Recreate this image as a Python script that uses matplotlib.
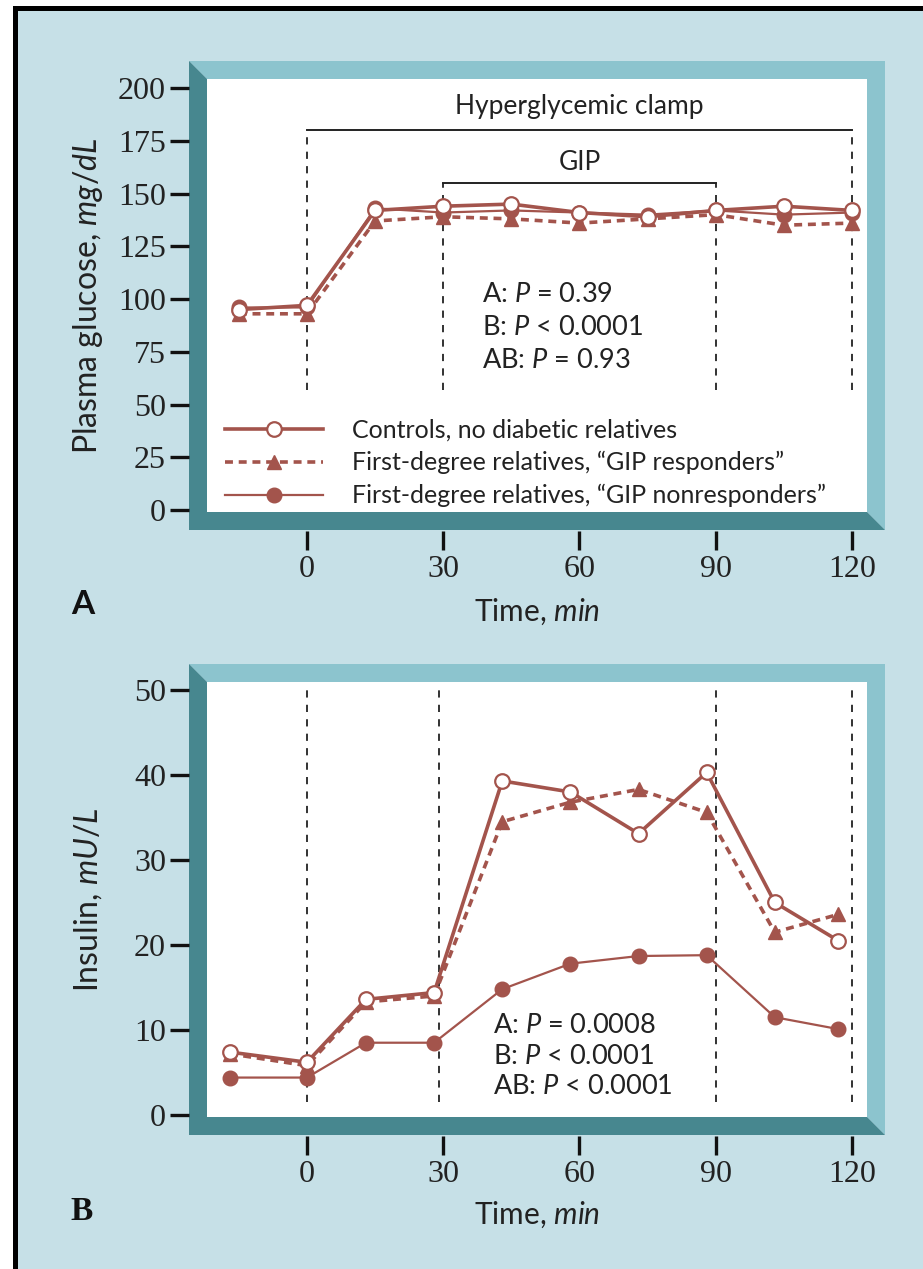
import matplotlib
matplotlib.use('Agg')
import matplotlib.pyplot as plt
from matplotlib.patches import Polygon, Rectangle

W, H = 923, 1269
BG = '#c6e0e7'
LIGHT = '#8cc4ce'
DARK = '#47878f'
RED = '#a3544c'

# ---- data ----
time_a = [-15, 0, 15, 30, 45, 60, 75, 90, 105, 120]
glu_ctrl = [95, 97, 142, 144, 145, 141, 139, 142, 144, 142]
glu_resp = [93, 93, 137, 139, 138, 136, 138, 140, 135, 136]
glu_nonr = [96, 96, 143, 141, 142, 141, 140, 142, 140, 141]

time_b = [-17, 0, 13, 28, 43, 58, 73, 88, 103, 117]
ins_ctrl = [7.4, 6.2, 13.6, 14.4, 39.3, 38.0, 33.1, 40.3, 25.0, 20.5]
ins_resp = [7.2, 5.8, 13.3, 14.0, 34.5, 36.8, 38.3, 35.6, 21.5, 23.6]
ins_nonr = [4.4, 4.4, 8.5, 8.5, 14.8, 17.8, 18.7, 18.8, 11.5, 10.1]

x_ticks = [0, 30, 60, 90, 120]
y_ticks_a = [0, 25, 50, 75, 100, 125, 150, 175, 200]
y_ticks_b = [0, 10, 20, 30, 40, 50]
series_labels = ['Controls, no diabetic relatives',
                 'First-degree relatives, \u201cGIP responders\u201d',
                 'First-degree relatives, \u201cGIP nonresponders\u201d']
stats_a = ['A: $P$ = 0.39', 'B: $P$ < 0.0001', 'AB: $P$ = 0.93']
stats_b = ['A: $P$ = 0.0008', 'B: $P$ < 0.0001', 'AB: $P$ < 0.0001']

plt.rcParams['font.family'] = ['Lato', 'DejaVu Sans']
plt.rcParams['mathtext.fontset'] = 'custom'
plt.rcParams['mathtext.rm'] = 'Lato'
plt.rcParams['mathtext.it'] = 'Lato:italic'
plt.rcParams['mathtext.bf'] = 'Lato:bold'
TXT = '#222222'

fig = plt.figure(figsize=(W / 100, H / 100), dpi=100, facecolor='white')


def fx(x):
    return x / W


def fy(y):
    return 1 - y / H


# background with black border on left/top
fig.patches.append(Rectangle((fx(15.5), fy(1300)), fx(1000), fy(7.5) - fy(1300),
                             transform=fig.transFigure, facecolor=BG,
                             edgecolor='black', lw=3.6, zorder=-10))


def frame(l, t, r, b, d=18):
    light = [(l - d, t - d), (r + d, t - d), (r + d, b + d), (r, b), (r, t), (l, t)]
    dark = [(l - d, t - d), (l, t), (l, b), (r, b), (r + d, b + d), (l - d, b + d)]
    for pts, c in ((light, LIGHT), (dark, DARK)):
        fig.patches.append(Polygon([(fx(x), fy(y)) for x, y in pts], closed=True,
                                   transform=fig.transFigure, facecolor=c,
                                   edgecolor='none', zorder=-5))


def make_axes(l, t, r, b, xlim, ylim, yticks):
    ax = fig.add_axes([fx(l), fy(b), (r - l) / W, (b - t) / H])
    ax.set_facecolor('white')
    ax.set_xlim(*xlim)
    ax.set_ylim(*ylim)
    for s in ax.spines.values():
        s.set_visible(False)
    ax.spines['left'].set_position(('outward', 18 * 0.72))
    ax.spines['bottom'].set_position(('outward', 19 * 0.72))
    ax.set_xticks(x_ticks)
    ax.set_yticks(yticks)
    ax.tick_params(axis='both', direction='out', length=13.5, width=2.4,
                   color='#111111', labelcolor=TXT, labelsize=23)
    ax.tick_params(axis='y', pad=3)
    ax.tick_params(axis='x', pad=3.5)
    for lab in ax.get_xticklabels() + ax.get_yticklabels():
        lab.set_family('Liberation Serif')
    frame(l, t, r, b)
    return ax


def plot_series(ax, t, ctrl, resp, nonr):
    ax.plot(t, nonr, color=RED, lw=1.6, marker='o', ms=10.5, mfc=RED, mec=RED,
            zorder=3, label=series_labels[2])
    ax.plot(t, resp, color=RED, lw=2.6, ls=(0, (2.2, 1.6)), marker='^', ms=10.5,
            mfc=RED, mec=RED, zorder=4, label=series_labels[1])
    ax.plot(t, ctrl, color=RED, lw=2.6, marker='o', ms=10.5, mfc='white', mec=RED,
            mew=1.6, zorder=5, label=series_labels[0])


def labels(ax, xl, yl, xl_y, size_y):
    ax.set_xlabel(xl, fontsize=21.5, color=TXT)
    ax.xaxis.set_label_coords(0.5, xl_y)
    ax.xaxis.label.set_va('center')
    ax.set_ylabel(yl, fontsize=size_y, color=TXT)
    ax.yaxis.set_label_coords((88 - 207) / 660, 0.5)
    ax.yaxis.label.set_va('center')


DASH = dict(color='#222222', lw=1.3, ls=(0, (4, 4)), zorder=1)

# ---------------- Panel A ----------------
axA = make_axes(207, 79, 867, 512, (-22.0, 123.3), (-0.95, 204.3), y_ticks_a)
plot_series(axA, time_a, glu_ctrl, glu_resp, glu_nonr)
for xv, top in ((0, 180), (30, 155), (90, 155), (120, 180)):
    axA.plot([xv, xv], [57, top], **DASH)
axA.plot([0, 120], [180, 180], color='#222222', lw=1.4, zorder=1)
axA.plot([30, 90], [155, 155], color='#222222', lw=1.4, zorder=1)
axA.text(60, 191.5, 'Hyperglycemic clamp', ha='center', va='center', fontsize=19, color=TXT)
axA.text(60, 164.5, 'GIP', ha='center', va='center', fontsize=19, color=TXT)
for i, s in enumerate(stats_a):
    axA.text(38.5, 102 - i * 15.5, s, ha='left', va='center', fontsize=19.5, color=TXT)
h, l = axA.get_legend_handles_labels()
leg = axA.legend(h[::-1], l[::-1], loc='center left',
                 bbox_to_anchor=((225 - 207) / 660, (512 - 463) / 433),
                 frameon=False, fontsize=18, handlelength=3.9, handletextpad=1.2,
                 labelspacing=0.38, borderpad=0, borderaxespad=0)
for t in leg.get_texts():
    t.set_color(TXT)
labels(axA, 'Time, $min$', 'Plasma glucose, $mg/dL$', (512 - 612) / 433, 23)
fig.text(fx(83), fy(605), 'A', fontsize=24, fontweight='bold', ha='center', va='center',
         color='#111111')

# ---------------- Panel B ----------------
axB = make_axes(207, 682, 867, 1117, (-22.0, 123.3), (-0.24, 50.94), y_ticks_b)
plot_series(axB, time_b, ins_ctrl, ins_resp, ins_nonr)
for xv in (0, 29, 90, 120):
    axB.plot([xv, xv], [1.5, 50], **DASH)
for i, s in enumerate(stats_b):
    axB.text(41, 10.5 - i * 3.6, s, ha='left', va='center', fontsize=19.5, color=TXT)
labels(axB, 'Time, $min$', 'Insulin, $mU/L$', (1117 - 1215) / 435, 23)
fig.text(fx(82), fy(1212), 'B', fontsize=24, fontweight='bold', ha='center', va='center',
         family='Liberation Serif', color='#111111')

fig.savefig('out.png', dpi=100, facecolor='white')
